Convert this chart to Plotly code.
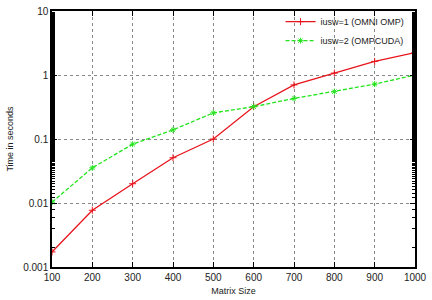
import plotly.graph_objects as go

matrix_size = [100, 200, 300, 400, 500, 600, 700, 800, 900, 1000]
omni_omp = [0.00172, 0.0077, 0.020, 0.051, 0.100, 0.32, 0.70, 1.07, 1.63, 2.23]
ompcuda = [0.0103, 0.0354, 0.083, 0.139, 0.256, 0.32, 0.43, 0.55, 0.72, 1.0]
x_ticks = [100, 200, 300, 400, 500, 600, 700, 800, 900, 1000]
y_ticks = [0.001, 0.01, 0.1, 1, 10]
y_tick_text = ["0.001", "0.01", "0.1", "1", "10"]

fig = go.Figure()
fig.add_trace(go.Scatter(
    x=matrix_size, y=omni_omp, mode="lines+markers",
    name="iusw=1 (OMNI OMP)",
    line=dict(color="#e8141c", width=1.3),
    marker=dict(symbol="cross-thin", size=5, line=dict(color="#e8141c", width=1)),
))
fig.add_trace(go.Scatter(
    x=matrix_size, y=ompcuda, mode="lines+markers",
    name="iusw=2 (OMPCUDA)",
    line=dict(color="#22e41c", width=1.3, dash="4px,2px"),
    marker=dict(symbol="asterisk", size=5, line=dict(color="#22e41c", width=1)),
))

axis_common = dict(
    showline=True, linecolor="black", linewidth=1.5, mirror="allticks",
    ticks="inside", ticklen=5, tickcolor="black",
    showgrid=True, gridcolor="#888888", griddash="dot", gridwidth=1,
    zeroline=False, ticklabeloverflow="allow",
    tickfont=dict(family="Liberation Sans, Arial", size=10, color="#222222"),
)

fig.update_xaxes(
    range=[100, 1000], tickvals=x_ticks,
    title=dict(text="Matrix Size", font=dict(family="Liberation Sans, Arial", size=9, color="#222222"), standoff=6),
    **axis_common,
)
fig.update_yaxes(
    type="log", range=[-3, 1], tickvals=y_ticks, ticktext=y_tick_text,
    minor=dict(ticks="inside", ticklen=3, tickcolor="black", showgrid=False),
    title=dict(text="Time in seconds", font=dict(family="Liberation Sans, Arial", size=9, color="#222222"), standoff=8),
    **axis_common,
)

fig.update_layout(
    width=432, height=300,
    margin=dict(l=52, r=9, t=5, b=24),
    paper_bgcolor="white", plot_bgcolor="white",
    font=dict(family="Liberation Sans, Arial", size=9, color="#222222"),
    legend=dict(x=0.985, y=1.015, xanchor="right", yanchor="top",
                bgcolor="rgba(255,255,255,0)", borderwidth=0,
                font=dict(size=9), tracegroupgap=0, itemwidth=30),
    showlegend=True,
)

fig.write_html("out.html")
